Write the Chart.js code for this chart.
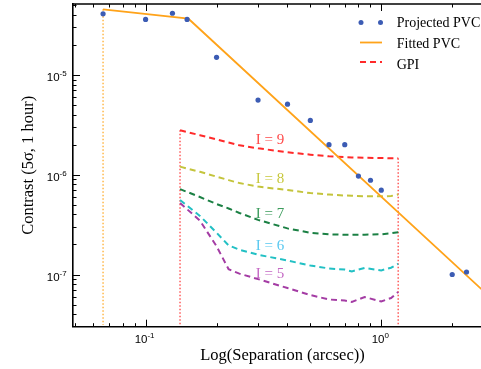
<!DOCTYPE html>
<html>
<head>
<meta charset="utf-8">
<script src="https://cdn.jsdelivr.net/npm/chart.js@4.4.0/dist/chart.umd.min.js"></script>
<style>
  html, body { margin: 0; padding: 0; overflow: hidden; background: #fff; }
  #wrap { width: 496px; height: 369px; }
</style>
</head>
<body>
<div id="wrap"><canvas id="chart" width="496" height="369"></canvas></div>
<script>
// axis limits
const xMin = 0.0492, xMax = 2.95;
const yMin = 3.12e-8, yMax = 5.14e-5;

// decade tick labels
const xTickVals = [0.1, 1];
const xTickExp = ['-1', '0'];
const yTickVals = [1e-7, 1e-6, 1e-5];
const yTickExp = ['-7', '-6', '-5'];

// projected PVC points
const pvcSep = [0.066, 0.1, 0.13, 0.15, 0.2, 0.3, 0.4, 0.5, 0.6, 0.7, 0.8, 0.9, 1.0, 2.0, 2.3];
const pvcContrast = [4.1e-5, 3.6e-5, 4.15e-5, 3.6e-5, 1.5e-5, 5.6e-6, 5.1e-6, 3.5e-6, 2.0e-6, 2.0e-6, 9.7e-7, 8.8e-7, 7.0e-7, 1.0e-7, 1.06e-7];

// fitted PVC
const fitSep = [0.066, 0.152, 2.95];
const fitContrast = [4.55e-5, 3.66e-5, 5.7e-8];

// GPI contrast curves
const gpiSep = [0.14, 0.17, 0.2, 0.225, 0.25, 0.3, 0.4, 0.5, 0.6, 0.7, 0.75, 0.85, 1.0, 1.1, 1.18];
const gpiI9 = [2.79e-6, 2.49e-6, 2.26e-6, 2.10e-6, 1.97e-6, 1.84e-6, 1.68e-6, 1.59e-6, 1.53e-6, 1.50e-6, 1.49e-6, 1.48e-6, 1.47e-6, 1.46e-6, 1.46e-6];
const gpiI8 = [1.205e-6, 1.07e-6, 9.57e-7, 8.83e-7, 8.25e-7, 7.61e-7, 7.02e-7, 6.55e-7, 6.33e-7, 6.19e-7, 6.15e-7, 6.08e-7, 6.07e-7, 6.12e-7, 6.33e-7];
const gpiI7 = [7.18e-7, 5.98e-7, 5.09e-7, 4.59e-7, 4.14e-7, 3.53e-7, 2.90e-7, 2.62e-7, 2.53e-7, 2.50e-7, 2.50e-7, 2.51e-7, 2.53e-7, 2.59e-7, 2.65e-7];
const gpiI6 = [5.58e-7, 3.87e-7, 2.62e-7, 1.96e-7, 1.77e-7, 1.58e-7, 1.38e-7, 1.23e-7, 1.15e-7, 1.12e-7, 1.076e-7, 1.163e-7, 1.10e-7, 1.17e-7, 1.28e-7];
const gpiI5 = [5.21e-7, 3.47e-7, 1.92e-7, 1.13e-7, 1.02e-7, 9.0e-8, 7.32e-8, 6.23e-8, 5.62e-8, 5.49e-8, 5.31e-8, 5.95e-8, 5.37e-8, 5.81e-8, 6.68e-8];

// curve labels
const curveLabels = ['I = 9', 'I = 8', 'I = 7', 'I = 6', 'I = 5'];
const labelSep = 0.337;
const labelContrast = [2.21e-6, 9.03e-7, 4.04e-7, 1.92e-7, 1.02e-7];
const labelColors = ['#ff4a4a', '#c8c83c', '#3c9c5c', '#58c8f0', '#c468c4'];

const blue = '#3c5cb4';
const orange = '#ffa31a';

const pts = (xs, ys) => xs.map((x, i) => ({ x: x, y: ys[i] }));

function gpiLine(data, color) {
  return { data: pts(gpiSep, data), showLine: true, borderColor: color, borderWidth: 2,
    borderDash: [6, 4], pointRadius: 0 };
}

const baseFont = '11.5px "Liberation Sans"';
const expFont = '8px "Liberation Sans"';

// inward ticks, tick labels, top spine, legend and curve labels
const extras = {
  id: 'extras',
  afterDraw(chart) {
    const { ctx, chartArea: a, scales: { x, y } } = chart;
    ctx.save();
    ctx.strokeStyle = '#000';
    ctx.lineWidth = 1;
    ctx.beginPath();
    for (let e = -2; e <= 0; e++) {
      for (let m = 1; m <= 9; m++) {
        const v = m * Math.pow(10, e);
        if (v < xMin || v > xMax) continue;
        const px = Math.round(x.getPixelForValue(v)) + 0.5;
        const len = m === 1 ? 7 : 3.5;
        ctx.moveTo(px, a.bottom); ctx.lineTo(px, a.bottom - len);
        ctx.moveTo(px, a.top); ctx.lineTo(px, a.top + len);
      }
    }
    for (let e = -8; e <= -5; e++) {
      for (let m = 1; m <= 9; m++) {
        const v = m * Math.pow(10, e);
        if (v < yMin || v > yMax) continue;
        const py = Math.round(y.getPixelForValue(v)) + 0.5;
        const len = m === 1 ? 7 : 3.5;
        ctx.moveTo(a.left, py); ctx.lineTo(a.left + len, py);
      }
    }
    ctx.stroke();
    // top spine
    ctx.lineWidth = 1.6;
    ctx.beginPath();
    ctx.moveTo(a.left, a.top); ctx.lineTo(a.right, a.top);
    ctx.stroke();

    // tick labels 10^n
    ctx.fillStyle = '#000';
    ctx.textAlign = 'left';
    ctx.textBaseline = 'alphabetic';
    xTickVals.forEach((v, i) => {
      ctx.font = baseFont; const w1 = ctx.measureText('10').width;
      ctx.font = expFont; const w2 = ctx.measureText(xTickExp[i]).width;
      const x0 = x.getPixelForValue(v) - (w1 + w2) / 2 - 1;
      ctx.font = baseFont; ctx.fillText('10', x0, a.bottom + 16.6);
      ctx.font = expFont; ctx.fillText(xTickExp[i], x0 + w1, a.bottom + 11.6);
    });
    yTickVals.forEach((v, i) => {
      const py = y.getPixelForValue(v);
      ctx.font = expFont; const w2 = ctx.measureText(yTickExp[i]).width;
      ctx.font = baseFont; const w1 = ctx.measureText('10').width;
      const x1 = a.left - 6.3;
      ctx.fillText('10', x1 - w2 - w1, py + 6.4);
      ctx.font = expFont; ctx.fillText(yTickExp[i], x1 - w2, py + 1.4);
    });

    // curve labels
    ctx.font = '15px "Liberation Serif"';
    ctx.textAlign = 'center';
    ctx.textBaseline = 'middle';
    curveLabels.forEach((t, i) => {
      ctx.fillStyle = labelColors[i];
      ctx.fillText(t, x.getPixelForValue(labelSep), y.getPixelForValue(labelContrast[i]));
    });

    // legend
    const lx = 360, tx = 396.7;
    ctx.fillStyle = blue;
    [lx + 1, lx + 20.5].forEach(cx => {
      ctx.beginPath(); ctx.arc(cx, 22.5, 2.5, 0, Math.PI * 2); ctx.fill();
    });
    ctx.strokeStyle = orange; ctx.lineWidth = 1.8;
    ctx.beginPath(); ctx.moveTo(lx, 42.5); ctx.lineTo(lx + 22, 42.5); ctx.stroke();
    ctx.strokeStyle = '#ff2a2a'; ctx.lineWidth = 2; ctx.setLineDash([6, 4]);
    ctx.beginPath(); ctx.moveTo(lx, 62); ctx.lineTo(lx + 22, 62); ctx.stroke();
    ctx.setLineDash([]);
    ctx.fillStyle = '#000';
    ctx.font = '14px "Liberation Serif"';
    ctx.textAlign = 'left';
    ctx.textBaseline = 'alphabetic';
    ctx.fillText('Projected PVC', tx, 27);
    ctx.fillText('Fitted PVC', tx, 48);
    ctx.fillText('GPI', tx, 68.6);
    ctx.restore();
  }
};

new Chart(document.getElementById('chart'), {
  type: 'scatter',
  data: {
    datasets: [
      { label: 'Projected PVC', data: pts(pvcSep, pvcContrast), pointRadius: 2.6,
        pointBorderWidth: 0, backgroundColor: blue, borderColor: blue },
      { label: 'Fitted PVC', data: pts(fitSep, fitContrast), showLine: true,
        borderColor: orange, borderWidth: 1.8, pointRadius: 0 },
      gpiLine(gpiI9, '#ff2a2a'),
      gpiLine(gpiI8, '#c4c43c'),
      gpiLine(gpiI7, '#1b8044'),
      gpiLine(gpiI6, '#22c0c4'),
      gpiLine(gpiI5, '#a43ca4'),
      { data: [{ x: fitSep[0], y: fitContrast[0] }, { x: fitSep[0], y: yMin }], showLine: true,
        borderColor: 'rgba(255,170,40,0.85)', borderWidth: 1.5, borderDash: [1.5, 2], pointRadius: 0 },
      { data: [{ x: gpiSep[0], y: gpiI9[0] }, { x: gpiSep[0], y: yMin }], showLine: true,
        borderColor: 'rgba(255,60,60,0.85)', borderWidth: 1.5, borderDash: [1.5, 2], pointRadius: 0 },
      { data: [{ x: gpiSep[gpiSep.length - 1], y: gpiI9[gpiI9.length - 1] }, { x: gpiSep[gpiSep.length - 1], y: yMin }],
        showLine: true, borderColor: 'rgba(255,60,60,0.85)', borderWidth: 1.5, borderDash: [1.5, 2], pointRadius: 0 }
    ]
  },
  options: {
    responsive: false,
    animation: false,
    layout: { padding: { top: 4, right: 2, left: 0, bottom: 0 } },
    plugins: { legend: { display: false }, tooltip: { enabled: false } },
    scales: {
      x: {
        type: 'logarithmic', min: xMin, max: xMax,
        grid: { display: false, drawTicks: false },
        border: { display: true, color: '#000', width: 1.6 },
        ticks: { display: false },
        title: { display: true, text: 'Log(Separation (arcsec))', color: '#000',
          font: { family: 'Liberation Serif', size: 16.5 }, padding: { top: 0, bottom: 3 } },
        afterFit: s => { s.height = 42.3; s.paddingLeft = 0; s.paddingRight = 0; }
      },
      y: {
        type: 'logarithmic', min: yMin, max: yMax,
        grid: { display: false, drawTicks: false },
        border: { display: true, color: '#000', width: 1.6 },
        ticks: { display: false },
        title: { display: true, text: 'Contrast (5\u03C3, 1 hour)', color: '#000',
          font: { family: 'Liberation Serif', size: 16.5 }, padding: { top: 19, bottom: 0 } },
        afterFit: s => { s.width = 73; s.paddingTop = 0; s.paddingBottom = 0; }
      }
    }
  },
  plugins: [extras]
});
</script>
</body>
</html>
